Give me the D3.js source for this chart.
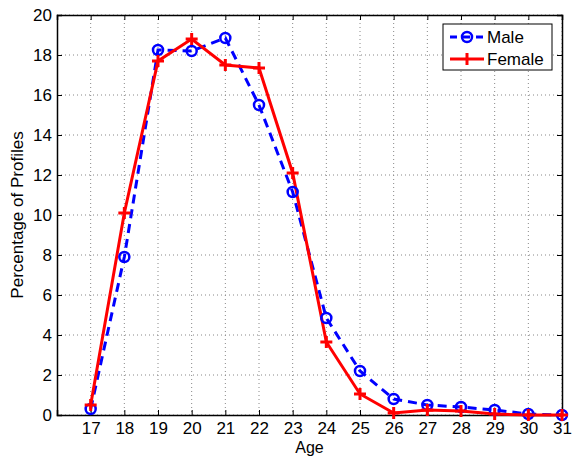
<!DOCTYPE html>
<html>
<head>
<meta charset="utf-8">
<script src="https://cdn.jsdelivr.net/npm/d3@7"></script>
<style>
  body { margin: 0; background: #fff; }
  svg text { font-family: "Liberation Sans", Arial, sans-serif; fill: #000; }
</style>
</head>
<body>
<div id="chart"></div>
<script>
// ages on the x axis
const ages = [17, 18, 19, 20, 21, 22, 23, 24, 25, 26, 27, 28, 29, 30, 31]
const maleValues = [0.3, 7.9, 18.25, 18.2, 18.85, 15.5, 11.15, 4.85, 2.2, 0.8, 0.5, 0.4, 0.25, 0.05, 0.0]
const femaleValues = [0.5, 10.1, 17.7, 18.8, 17.5, 17.35, 12.1, 3.65, 1.05, 0.1, 0.25, 0.2, 0.05, 0.0, 0.0]
const yTicks = [0, 2, 4, 6, 8, 10, 12, 14, 16, 18, 20]

const width = 572, height = 456
const margin = {top: 15, right: 10, bottom: 41, left: 57}
const gW = width - margin.left - margin.right
const gH = height - margin.top - margin.bottom

const svg = d3.select('#chart').append('svg')
  .attr('width', width)
  .attr('height', height)

const g = svg.append('g')
  .attr('transform', `translate(${margin.left},${margin.top})`)

const x = d3.scaleLinear().domain([16, 31]).range([0, gW])
const y = d3.scaleLinear().domain([0, 20]).range([gH, 0])

// dotted grid
g.append('g').selectAll('line')
  .data(ages)
  .enter().append('line')
  .attr('x1', d => x(d)).attr('x2', d => x(d))
  .attr('y1', 0).attr('y2', gH)
  .attr('stroke', '#888').attr('stroke-width', 1)
  .attr('stroke-dasharray', '1,3')

g.append('g').selectAll('line')
  .data(yTicks)
  .enter().append('line')
  .attr('x1', 0).attr('x2', gW)
  .attr('y1', d => y(d)).attr('y2', d => y(d))
  .attr('stroke', '#888').attr('stroke-width', 1)
  .attr('stroke-dasharray', '1,3')

// axes, ticks pointing inward like matlab
const fontSize = 17
const xAxis = g.append('g')
  .attr('transform', `translate(0,${gH})`)
  .call(d3.axisBottom(x).tickValues(ages).tickSize(-5).tickPadding(7).tickFormat(d3.format('d')))
const xTop = g.append('g')
  .call(d3.axisTop(x).tickValues(ages).tickSize(-5).tickFormat(''))
const yAxis = g.append('g')
  .call(d3.axisLeft(y).tickValues(yTicks).tickSize(-5).tickPadding(5))
const yRight = g.append('g')
  .attr('transform', `translate(${gW},0)`)
  .call(d3.axisRight(y).tickValues(yTicks).tickSize(-5).tickFormat(''))

;[xAxis, xTop, yAxis, yRight].forEach(a => {
  a.select('.domain').attr('stroke', '#000').attr('stroke-width', 1.5)
  a.selectAll('.tick line').attr('stroke', '#000')
  a.selectAll('text').style('font-size', fontSize + 'px')
})

// series
const line = d3.line().x((d, i) => x(ages[i])).y(d => y(d))

g.append('path')
  .datum(maleValues)
  .attr('d', line)
  .attr('fill', 'none')
  .attr('stroke', '#0000ff')
  .attr('stroke-width', 3)
  .attr('stroke-dasharray', '9,6')

g.append('path')
  .datum(femaleValues)
  .attr('d', line)
  .attr('fill', 'none')
  .attr('stroke', '#ff0000')
  .attr('stroke-width', 3)

g.append('g').selectAll('circle')
  .data(maleValues)
  .enter().append('circle')
  .attr('cx', (d, i) => x(ages[i]))
  .attr('cy', d => y(d))
  .attr('r', 5)
  .attr('fill', 'none')
  .attr('stroke', '#0000ff')
  .attr('stroke-width', 2.5)

const plus = 6
const fem = g.append('g').selectAll('g')
  .data(femaleValues)
  .enter().append('g')
  .attr('transform', (d, i) => `translate(${x(ages[i])},${y(d)})`)
fem.append('line').attr('x1', -plus).attr('x2', plus).attr('stroke', '#ff0000').attr('stroke-width', 3)
fem.append('line').attr('y1', -plus).attr('y2', plus).attr('stroke', '#ff0000').attr('stroke-width', 3)

// axis labels
svg.append('text')
  .attr('x', margin.left + x(23.5))
  .attr('y', 452.5)
  .attr('text-anchor', 'middle')
  .style('font-size', '16px')
  .text('Age')

svg.append('text')
  .attr('transform', `translate(23,${margin.top + gH / 2}) rotate(-90)`)
  .attr('text-anchor', 'middle')
  .style('font-size', fontSize + 'px')
  .text('Percentage of Profiles')

// legend
const leg = svg.append('g').attr('transform', 'translate(443,24)')
leg.append('rect')
  .attr('width', 109).attr('height', 46)
  .attr('fill', '#fff').attr('stroke', '#000').attr('stroke-width', 1)

leg.append('line')
  .attr('x1', 7).attr('x2', 41).attr('y1', 13).attr('y2', 13)
  .attr('stroke', '#0000ff').attr('stroke-width', 3).attr('stroke-dasharray', '7,6')
leg.append('circle')
  .attr('cx', 24).attr('cy', 13).attr('r', 5)
  .attr('fill', 'none').attr('stroke', '#0000ff').attr('stroke-width', 2.5)
leg.append('text').attr('x', 44).attr('y', 19).style('font-size', fontSize + 'px').text('Male')

leg.append('line')
  .attr('x1', 7).attr('x2', 41).attr('y1', 35).attr('y2', 35)
  .attr('stroke', '#ff0000').attr('stroke-width', 3)
leg.append('line')
  .attr('x1', 24).attr('x2', 24).attr('y1', 29).attr('y2', 41)
  .attr('stroke', '#ff0000').attr('stroke-width', 3)
leg.append('text').attr('x', 44).attr('y', 41).style('font-size', fontSize + 'px').text('Female')
</script>
</body>
</html>
